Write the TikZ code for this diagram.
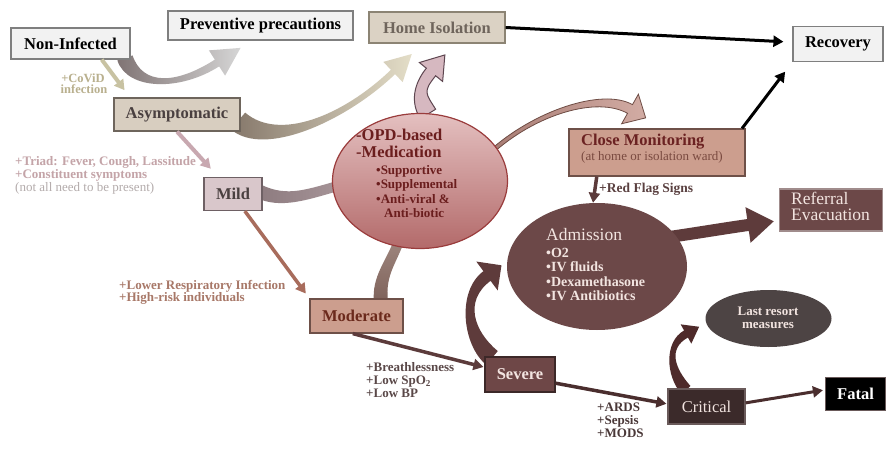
\documentclass[tikz,border=0pt]{standalone}
\usepackage{fontspec}
\setmainfont{Liberation Serif}
\usetikzlibrary{calc,shapes.geometric,arrows.meta}
\pgfdeclarelayer{bg}
\pgfsetlayers{bg,main}

\definecolor{boxgray}{HTML}{F2F2F2}
\definecolor{boxline}{HTML}{7F7F7F}
\definecolor{homefill}{HTML}{DBD2C4}
\definecolor{homeline}{HTML}{8C8474}
\definecolor{hometext}{HTML}{6F655C}
\definecolor{asymfill}{HTML}{D8CEC0}
\definecolor{asymline}{HTML}{6E655C}
\definecolor{asymtext}{HTML}{4A4040}
\definecolor{mildfill}{HTML}{D9C7CB}
\definecolor{mildline}{HTML}{6E6064}
\definecolor{modfill}{HTML}{CC9E8E}
\definecolor{modline}{HTML}{6E5048}
\definecolor{modtext}{HTML}{6B2A1C}
\definecolor{sevfill}{HTML}{6E4747}
\definecolor{sevline}{HTML}{3C2828}
\definecolor{lighttext}{HTML}{F2E4E0}
\definecolor{critfill}{HTML}{3B2A2A}
\definecolor{critline}{HTML}{6A5A5A}
\definecolor{admfill}{HTML}{6C4848}
\definecolor{lastfill}{HTML}{4D4444}
\definecolor{refline}{HTML}{A08C8C}
\definecolor{opdlight}{HTML}{E4C0C0}
\definecolor{opddark}{HTML}{B36A6A}
\definecolor{opdline}{HTML}{9A3C3C}
\definecolor{opdtext}{HTML}{6B1E1E}
\definecolor{closetext}{HTML}{6B2222}
\definecolor{closesub}{HTML}{7A4A40}
\definecolor{covidc}{HTML}{B9B08E}
\definecolor{triadc}{HTML}{C4A4A8}
\definecolor{notallc}{HTML}{B4ACAC}
\definecolor{lowerc}{HTML}{A87868}
\definecolor{breathc}{HTML}{5A4848}
\definecolor{ardsc}{HTML}{4A3838}
\definecolor{redflagc}{HTML}{5A4040}
\definecolor{cvdarr}{HTML}{C8C2A2}
\definecolor{mildarr}{HTML}{C8A8B0}
\definecolor{modarr}{HTML}{A86C5C}
\definecolor{sevarr}{HTML}{5C3B3B}
\definecolor{critarr}{HTML}{4A2E2E}
\definecolor{arrAstart}{HTML}{807474}
\definecolor{arrAend}{HTML}{D6D6D6}
\definecolor{arrBstart}{HTML}{85776A}
\definecolor{arrBend}{HTML}{E4DEC8}
\definecolor{arrCfill}{HTML}{D6B8C0}
\definecolor{arrCline}{HTML}{5E4650}
\definecolor{arrDstart}{HTML}{8C7A7E}
\definecolor{arrDend}{HTML}{A8969A}
\definecolor{arrEstart}{HTML}{7E625A}
\definecolor{arrEend}{HTML}{A08880}
\definecolor{arrFstart}{HTML}{A87C74}
\definecolor{arrFend}{HTML}{D2ACA4}
\definecolor{arrFline}{HTML}{6E4C44}
\definecolor{arrG}{HTML}{5E3B3B}
\definecolor{arrH}{HTML}{4E2A2A}

% tapered curved arrow: #1 style, #2-#5 bezier points, #6 start half-width,
% #7 end half-width, #8 head half-width, #9 head length
\newcommand\tarrow[9]{%
  \coordinate (qa) at #2; \coordinate (qb) at #3;
  \coordinate (qc) at #4; \coordinate (qd) at #5;
  \coordinate (la) at ($(qa)!#6!90:(qb)$);
  \coordinate (ra) at ($(qa)!#6!-90:(qb)$);
  \coordinate (ld) at ($(qd)!#7!-90:(qc)$);
  \coordinate (rd) at ($(qd)!#7!90:(qc)$);
  \coordinate (hl) at ($(qd)!#8!-90:(qc)$);
  \coordinate (hr) at ($(qd)!#8!90:(qc)$);
  \coordinate (tp) at ($(qd)!-#9!(qc)$);
  \path[#1] (la) .. controls ($(qb)+(la)-(qa)$) and ($(qc)+(ld)-(qd)$) .. (ld)
    -- (hl) -- (tp) -- (hr) -- (rd)
    .. controls ($(qc)+(rd)-(qd)$) and ($(qb)+(ra)-(qa)$) .. (ra) -- cycle;
}
\newcommand\fbig{\fontsize{16.5}{18}\selectfont}
\newcommand\fsm{\fontsize{13}{13}\selectfont}

\begin{document}
\begin{tikzpicture}[x=1pt,y=-1pt,
  boxbase/.style={rectangle, inner sep=0pt, line width=1.2pt, font=\fbig\bfseries},
  lbox/.style={boxbase, draw=boxline, fill=boxgray, text=black},
  lab/.style={anchor=mid west, inner sep=0pt, font=\fsm\bfseries},
  conn/.style={-{Triangle[length=10pt,width=11pt]}, line width=3.5pt},
  ]
\useasboundingbox (0,0) rectangle (889,476);

% ---------- boxes ----------
\node[lbox, minimum width=119pt, minimum height=31pt] (noninf) at (70.5,43.5) {Non-Infected};
\node[lbox, minimum width=185pt, minimum height=29pt] (prev) at (260.5,25.5) {Preventive precautions};
\node[boxbase, draw=homeline, fill=homefill, text=hometext, minimum width=136pt, minimum height=31pt] (home) at (437,27.5) {Home Isolation};
\node[lbox, minimum width=90pt, minimum height=35pt] (recov) at (838,44) {Recovery};
\node[boxbase, draw=asymline, fill=asymfill, text=asymtext, minimum width=126pt, minimum height=33pt] (asym) at (177,114.5) {Asymptomatic};
\node[boxbase, draw=mildline, fill=mildfill, text=asymtext, minimum width=58pt, minimum height=33pt] (mild) at (233,194) {Mild};
\node[boxbase, draw=modline, fill=modfill, text=modtext, minimum width=93pt, minimum height=34pt] (moder) at (356.5,316) {Moderate};
\node[boxbase, draw=sevline, fill=sevfill, text=lighttext, minimum width=70pt, minimum height=35pt] (severe) at (520,374.5) {Severe};
\node[boxbase, draw=critline, fill=critfill, text=lighttext, font=\fbig, minimum width=77pt, minimum height=35pt] (crit) at (706.5,406.5) {Critical};
\node[boxbase, draw=critline, fill=black, text=white, minimum width=60pt, minimum height=33pt] (fatal) at (855.5,394) {Fatal};
\node[boxbase, draw=modline, fill=modfill, minimum width=176pt, minimum height=47pt] (close) at (657,152.5) {};
\node[boxbase, draw=refline, fill=admfill, minimum width=103pt, minimum height=42pt] (refer) at (831,210) {};

% ---------- ellipses ----------
\node[ellipse, draw=opdline, line width=1.2pt, top color=opdlight, bottom color=opddark, minimum width=175pt, minimum height=135pt, inner sep=0pt] (opd) at (420,181) {};
\node[ellipse, fill=admfill, minimum width=180pt, minimum height=127pt, inner sep=0pt] (adm) at (597,266.5) {};
\node[ellipse, fill=lastfill, minimum width=126pt, minimum height=57pt, inner sep=0pt] (last) at (768.5,318.5) {};

% ---------- texts in shapes ----------
\node[lab, text=opdtext, font=\fontsize{16.5}{18}\selectfont\bfseries] (opd1) at (356,138) {-OPD-based};
\node[lab, text=opdtext, font=\fontsize{16.5}{18}\selectfont\bfseries] (opd2) at (356,155) {-Medication};
\node[lab, text=opdtext] (opd3) at (376,172) {•Supportive};
\node[lab, text=opdtext] (opd4) at (376,186) {•Supplemental};
\node[lab, text=opdtext] (opd5) at (376,201) {•Anti-viral \&};
\node[lab, text=opdtext] (opd6) at (384,215) {Anti-biotic};

\node[lab, text=lighttext, font=\fontsize{17.5}{18}\selectfont] (adm1) at (546,238) {Admission};
\node[lab, text=lighttext, font=\fontsize{14}{14}\selectfont\bfseries] (adm2) at (546,255) {•O2};
\node[lab, text=lighttext, font=\fontsize{14}{14}\selectfont\bfseries] (adm3) at (546,269) {•IV fluids};
\node[lab, text=lighttext, font=\fontsize{14}{14}\selectfont\bfseries] (adm4) at (546,284) {•Dexamethasone};
\node[lab, text=lighttext, font=\fontsize{14}{14}\selectfont\bfseries] (adm5) at (546,298) {•IV Antibiotics};

\node[lab, text=lighttext, font=\fontsize{17.5}{18}\selectfont] (ref1) at (791,202) {Referral};
\node[lab, text=lighttext, font=\fontsize{17.5}{18}\selectfont] (ref2) at (791,218) {Evacuation};

\node[lab, anchor=mid, text=lighttext] (last1) at (768,313) {Last resort};
\node[lab, anchor=mid, text=lighttext] (last2) at (768,326) {measures};

\node[lab, text=closetext, font=\fontsize{16.5}{18}\selectfont\bfseries] (close1) at (581,143) {Close Monitoring};
\node[lab, text=closesub, font=\fontsize{13}{13}\selectfont] (close2) at (581,158) {(at home or isolation ward)};

% ---------- free labels ----------
\node[lab, anchor=mid, text=covidc, font=\fontsize{12.5}{13}\selectfont\bfseries] (cov1) at (83,80) {+CoViD};
\node[lab, anchor=mid, text=covidc, font=\fontsize{12.5}{13}\selectfont\bfseries] (cov2) at (84,91) {infection};
\node[lab, text=triadc] (tri1) at (15,163) {+Triad: Fever, Cough, Lassitude};
\node[lab, text=triadc] (tri2) at (15,176) {+Constituent symptoms};
\node[lab, text=notallc, font=\fsm] (tri3) at (15,189) {(not all need to be present)};
\node[lab, text=lowerc] (low1) at (119,287) {+Lower Respiratory Infection};
\node[lab, text=lowerc] (low2) at (119,299) {+High-risk individuals};
\node[lab, text=breathc] (br1) at (366,369) {+Breathlessness};
\node[lab, text=breathc] (br2) at (366,382) {+Low SpO\textsubscript{2}};
\node[lab, text=breathc] (br3) at (366,395) {+Low BP};
\node[lab, text=ardsc] (ar1) at (597,409) {+ARDS};
\node[lab, text=ardsc] (ar2) at (597,422) {+Sepsis};
\node[lab, text=ardsc] (ar3) at (597,435) {+MODS};
\node[lab, text=redflagc, font=\fontsize{13.5}{14}\selectfont\bfseries] (rf) at (599,190) {+Red Flag Signs};

% ---------- straight connectors ----------
\draw[conn, draw=cvdarr, fill=cvdarr, line width=4pt, shorten >=9pt]
  ($(noninf.south west)!0.76!(noninf.south east)$) -- ($(asym.north west)!0.13!(asym.north east)$);
\draw[conn, draw=mildarr, fill=mildarr, line width=4pt, shorten >=11pt]
  (asym.south) -- ($(mild.north west)!0.25!(mild.north east)$);
\draw[conn, draw=modarr, fill=modarr, shorten >=6pt]
  ($(mild.south west)!0.7!(mild.south east)$) -- (moder.north west);
\draw[conn, draw=sevarr, fill=sevarr, shorten >=1pt]
  ($(moder.south west)!0.46!(moder.south east)$) -- ($(severe.north west)!0.3!(severe.south west)$);
\draw[conn, draw=critarr, fill=critarr, shorten >=1pt]
  ($(severe.north east)!0.74!(severe.south east)$) -- ($(crit.north west)!0.43!(crit.south west)$);
\draw[conn, draw=critarr, fill=critarr, line width=3pt, shorten >=2pt]
  ($(crit.north east)!0.4!(crit.south east)$) -- ($(fatal.north west)!0.38!(fatal.south west)$);
\draw[conn, draw=black, fill=black, line width=3pt, shorten >=9pt]
  (home.east) -- ($(recov.north west)!0.45!(recov.south west)$);
\draw[conn, draw=black, fill=black, line width=3pt, shorten >=12pt]
  ($(close.north west)!0.98!(close.north east)$) -- (recov.south west);
\draw[conn, draw=sevarr, fill=sevarr, shorten >=0pt]
  ($(close.south west)!0.16!(close.south east)$) -- ($(adm.north)+(-4,0)$);

% ---------- curved block arrows (behind) ----------
\begin{pgfonlayer}{bg}
\fill[white] (0,0) rectangle (889,476);
\tarrow{shade, left color=arrAstart, right color=arrAend}{(125,58)}{(135,88)}{(178,88)}{(217,63)}{8pt}{4pt}{15pt}{28pt}
\tarrow{shade, left color=arrBstart, right color=arrBend}{(238,121)}{(272,150)}{(345,118)}{(393,72)}{11pt}{3pt}{14pt}{26pt}
\tarrow{fill=arrCfill, draw=arrCline, line width=1pt}{(428,114)}{(418,98)}{(418,88)}{(431,72)}{9pt}{6pt}{15pt}{22pt}
\tarrow{shade, left color=arrDstart, right color=arrDend}{(258,191)}{(285,204)}{(308,194)}{(345,184)}{7pt}{5pt}{5pt}{1pt}
\tarrow{shade, bottom color=arrEstart, top color=arrEend}{(381,302)}{(378,275)}{(392,262)}{(400,238)}{7pt}{5pt}{5pt}{1pt}
\tarrow{shade, left color=arrFstart, right color=arrFend, draw=arrFline, line width=0.8pt}{(490,153)}{(535,112)}{(600,92)}{(630,109)}{2pt}{5pt}{17pt}{18pt}
\tarrow{fill=arrG}{(492,358)}{(468,338)}{(460,296)}{(487,276)}{9pt}{6pt}{18pt}{18pt}
\tarrow{fill=arrH}{(686,390)}{(670,372)}{(666,345)}{(686,334)}{6pt}{4pt}{11pt}{15pt}
\tarrow{fill=arrG}{(655,239)}{(685,235)}{(720,229)}{(748,225)}{6pt}{6pt}{18pt}{26pt}
\end{pgfonlayer}
\end{tikzpicture}
\end{document}
